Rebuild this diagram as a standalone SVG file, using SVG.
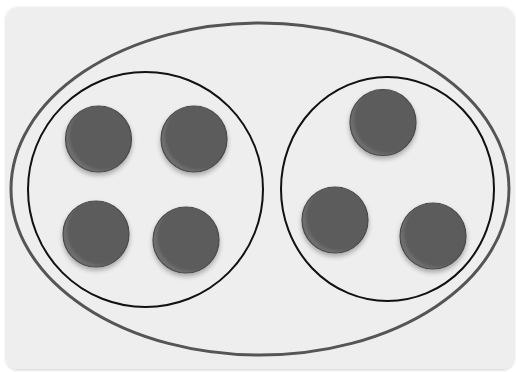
<svg xmlns="http://www.w3.org/2000/svg" width="516" height="372" viewBox="0 0 516 372">
<defs>
<filter id="sh" x="-30%" y="-30%" width="160%" height="170%">
<feGaussianBlur in="SourceAlpha" stdDeviation="2.5"/>
<feOffset dy="3" result="b"/>
<feComponentTransfer><feFuncA type="linear" slope="0.3"/></feComponentTransfer>
<feMerge><feMergeNode/><feMergeNode in="SourceGraphic"/></feMerge>
</filter>
<filter id="bg" x="-5%" y="-5%" width="110%" height="110%">
<feGaussianBlur in="SourceAlpha" stdDeviation="1.5"/>
<feOffset dy="1"/>
<feComponentTransfer><feFuncA type="linear" slope="0.2"/></feComponentTransfer>
<feMerge><feMergeNode/><feMergeNode in="SourceGraphic"/></feMerge>
</filter>
<radialGradient id="g" cx="0.58" cy="0.45" r="0.55">
<stop offset="0.88" stop-color="#5b5b5b"/>
<stop offset="1" stop-color="#6e6e6e"/>
</radialGradient>
</defs>
<style>
.dot{fill:url(#g);stroke:#4a4a4a;stroke-width:1.2;filter:url(#sh)}
.outer{fill:none;stroke:#555555;stroke-width:3}
.set{fill:none;stroke:#111111;stroke-width:2}
</style>
<rect x="6" y="7" width="508" height="362" rx="12" fill="#eeeeee" filter="url(#bg)"/>
<g id="outer-set"><ellipse class="outer" cx="260" cy="189" rx="249" ry="166"/></g>
<g id="left-set"><ellipse class="set" cx="145.5" cy="189.5" rx="117.5" ry="117.5"/></g>
<g id="right-set"><ellipse class="set" cx="387.5" cy="189" rx="106.5" ry="112"/></g>
<g id="n1"><circle class="dot" cx="98.5" cy="139" r="33"/></g>
<g id="n2"><circle class="dot" cx="194" cy="139" r="33"/></g>
<g id="n3"><circle class="dot" cx="96" cy="234" r="33"/></g>
<g id="n4"><circle class="dot" cx="186" cy="240" r="33"/></g>
<g id="n5"><circle class="dot" cx="383" cy="122.5" r="33"/></g>
<g id="n6"><circle class="dot" cx="335" cy="220" r="33"/></g>
<g id="n7"><circle class="dot" cx="433" cy="236" r="33"/></g>
<g id="connectors"></g>
</svg>
